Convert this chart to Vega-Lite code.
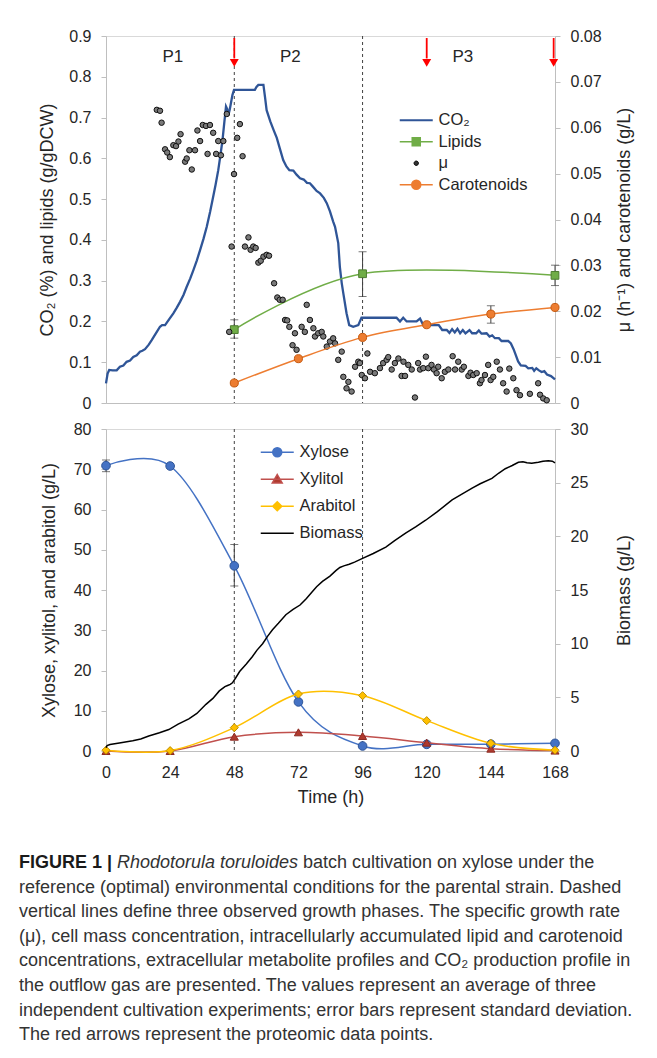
{
  "$schema": "https://vega.github.io/schema/vega-lite/v6.json",
  "background": "white",
  "padding": {"left": 19, "top": 27, "right": 0, "bottom": 0},
  "bounds": "flush",
  "spacing": 26,
  "config": {
    "font": "Liberation Sans",
    "view": {"stroke": "#d9d9d9"},
    "axis": {"labelFontSize": 16, "labelColor": "#262626", "titleFontSize": 18, "titleFontWeight": "normal", "titleColor": "#262626", "domainColor": "#bfbfbf", "tickColor": "#bfbfbf", "tickSize": 5, "grid": false, "labelPadding": 10, "titlePadding": 12},
    "legend": {"labelFontSize": 16.5, "labelColor": "#262626", "symbolSize": 121, "padding": 0}
  },
  "resolve": {"scale": {"x": "independent", "y": "independent", "color": "independent"}},
  "datasets": {
    "co2": [{"t":0,"v":0.048},{"t":0.6,"v":0.072},{"t":1.2,"v":0.081},{"t":2.5,"v":0.08},{"t":4,"v":0.08},{"t":5.2,"v":0.089},{"t":6.5,"v":0.092},{"t":7.7,"v":0.101},{"t":9,"v":0.104},{"t":10.2,"v":0.113},{"t":11.5,"v":0.117},{"t":12.7,"v":0.126},{"t":13.6,"v":0.128},{"t":14.6,"v":0.132},{"t":16,"v":0.143},{"t":17.1,"v":0.154},{"t":18.6,"v":0.17},{"t":20.2,"v":0.187},{"t":21,"v":0.191},{"t":22.1,"v":0.191},{"t":23.6,"v":0.205},{"t":25.2,"v":0.22},{"t":26.5,"v":0.234},{"t":27.7,"v":0.248},{"t":29,"v":0.265},{"t":30.2,"v":0.285},{"t":31.5,"v":0.305},{"t":32.7,"v":0.326},{"t":34,"v":0.35},{"t":35.2,"v":0.375},{"t":36.5,"v":0.403},{"t":37.7,"v":0.432},{"t":39,"v":0.47},{"t":40.1,"v":0.506},{"t":41,"v":0.535},{"t":42,"v":0.571},{"t":42.8,"v":0.607},{"t":43.6,"v":0.645},{"t":44.3,"v":0.69},{"t":44.9,"v":0.727},{"t":45.4,"v":0.72},{"t":45.8,"v":0.706},{"t":46.3,"v":0.72},{"t":46.6,"v":0.73},{"t":47.3,"v":0.755},{"t":47.9,"v":0.768},{"t":55.7,"v":0.768},{"t":56.3,"v":0.775},{"t":57,"v":0.78},{"t":58.9,"v":0.78},{"t":59.5,"v":0.75},{"t":60.1,"v":0.718},{"t":61.5,"v":0.69},{"t":62.8,"v":0.668},{"t":63.9,"v":0.65},{"t":65,"v":0.625},{"t":66.3,"v":0.596},{"t":67.5,"v":0.58},{"t":68.6,"v":0.571},{"t":70.1,"v":0.57},{"t":71.3,"v":0.56},{"t":72.6,"v":0.551},{"t":74,"v":0.548},{"t":75.2,"v":0.54},{"t":76.3,"v":0.539},{"t":77.5,"v":0.53},{"t":78.8,"v":0.52},{"t":80.1,"v":0.514},{"t":81.5,"v":0.503},{"t":82.6,"v":0.49},{"t":83.8,"v":0.47},{"t":85,"v":0.445},{"t":85.7,"v":0.432},{"t":86.9,"v":0.392},{"t":87.5,"v":0.334},{"t":88.2,"v":0.294},{"t":88.8,"v":0.269},{"t":90,"v":0.22},{"t":91,"v":0.191},{"t":92.5,"v":0.187},{"t":94.4,"v":0.191},{"t":95.6,"v":0.209},{"t":100,"v":0.209},{"t":104,"v":0.209},{"t":108.7,"v":0.209},{"t":110,"v":0.2},{"t":111.2,"v":0.209},{"t":112.5,"v":0.2},{"t":116.2,"v":0.2},{"t":117.5,"v":0.207},{"t":118.7,"v":0.191},{"t":121,"v":0.191},{"t":124.5,"v":0.191},{"t":125.8,"v":0.179},{"t":127.5,"v":0.179},{"t":128.5,"v":0.172},{"t":129.5,"v":0.181},{"t":130.5,"v":0.173},{"t":131.5,"v":0.182},{"t":132.5,"v":0.171},{"t":133.5,"v":0.179},{"t":134.5,"v":0.171},{"t":136,"v":0.179},{"t":137,"v":0.171},{"t":138.5,"v":0.171},{"t":139.5,"v":0.178},{"t":140.5,"v":0.17},{"t":142.4,"v":0.171},{"t":143.5,"v":0.163},{"t":144.5,"v":0.166},{"t":145.5,"v":0.159},{"t":147,"v":0.159},{"t":148,"v":0.152},{"t":150.5,"v":0.152},{"t":151.5,"v":0.146},{"t":152.5,"v":0.132},{"t":153.3,"v":0.118},{"t":154.2,"v":0.102},{"t":155.2,"v":0.092},{"t":157,"v":0.091},{"t":158,"v":0.085},{"t":159.5,"v":0.086},{"t":160.2,"v":0.079},{"t":161,"v":0.085},{"t":162,"v":0.08},{"t":163,"v":0.076},{"t":164,"v":0.078},{"t":165,"v":0.07},{"t":166.5,"v":0.066},{"t":168,"v":0.058}],
    "lip": [{"t":48,"v":0.18,"lo":0.159,"hi":0.204},{"t":96,"v":0.317,"lo":0.261,"hi":0.371},{"t":168,"v":0.313,"lo":0.288,"hi":0.338}],
    "car": [{"t":48,"v":0.00436},{"t":72,"v":0.00966},{"t":96,"v":0.0143},{"t":120,"v":0.01706},{"t":144,"v":0.01938,"lo":0.0174,"hi":0.0212},{"t":168,"v":0.02083}],
    "mu": [{"t":19.0,"m":0.0639},{"t":20.2,"m":0.0637},{"t":20.8,"m":0.0611},{"t":22.1,"m":0.0553},{"t":22.9,"m":0.0546},{"t":23.9,"m":0.0536},{"t":25.2,"m":0.0562},{"t":26.2,"m":0.056},{"t":27.1,"m":0.057},{"t":27.9,"m":0.0586},{"t":29.6,"m":0.0526},{"t":30.2,"m":0.0533},{"t":31.2,"m":0.0551},{"t":32.1,"m":0.0509},{"t":33.3,"m":0.0551},{"t":34.2,"m":0.0594},{"t":35.2,"m":0.0571},{"t":36.2,"m":0.0606},{"t":37.4,"m":0.0604},{"t":38.0,"m":0.0543},{"t":38.9,"m":0.0606},{"t":40.1,"m":0.0589},{"t":41.2,"m":0.0543},{"t":42.0,"m":0.0571},{"t":43.0,"m":0.054},{"t":43.9,"m":0.0571},{"t":45.2,"m":0.063},{"t":46.1,"m":0.0155},{"t":47.0,"m":0.0341},{"t":47.9,"m":0.0499},{"t":49.1,"m":0.0578},{"t":50.1,"m":0.0608},{"t":51.1,"m":0.0538},{"t":52.0,"m":0.0341},{"t":53.3,"m":0.0361},{"t":54.1,"m":0.0334},{"t":55.1,"m":0.0341},{"t":56.0,"m":0.0338},{"t":57.0,"m":0.0306},{"t":57.9,"m":0.031},{"t":58.9,"m":0.0319},{"t":60.1,"m":0.0323},{"t":61.0,"m":0.0321},{"t":62.9,"m":0.0261},{"t":64.1,"m":0.023},{"t":65.0,"m":0.0225},{"t":66.1,"m":0.0225},{"t":67.0,"m":0.0181},{"t":67.8,"m":0.018},{"t":68.6,"m":0.0166},{"t":69.8,"m":0.0126},{"t":70.7,"m":0.0152},{"t":71.3,"m":0.0116},{"t":73.2,"m":0.0166},{"t":74.4,"m":0.0155},{"t":75.1,"m":0.0214},{"t":76.3,"m":0.0181},{"t":77.6,"m":0.0163},{"t":78.2,"m":0.0145},{"t":79.4,"m":0.0152},{"t":80.7,"m":0.0155},{"t":81.3,"m":0.0145},{"t":82.6,"m":0.0123},{"t":83.8,"m":0.0134},{"t":85.0,"m":0.0141},{"t":85.7,"m":0.013},{"t":86.9,"m":0.0094},{"t":88.2,"m":0.0112},{"t":88.8,"m":0.0057},{"t":90.0,"m":0.0032},{"t":90.7,"m":0.0046},{"t":91.9,"m":0.0025},{"t":93.2,"m":0.0079},{"t":94.4,"m":0.009},{"t":95.0,"m":0.0087},{"t":95.7,"m":0.0061},{"t":96.9,"m":0.0054},{"t":97.8,"m":0.0108},{"t":98.8,"m":0.0068},{"t":100.6,"m":0.0065},{"t":102.5,"m":0.0076},{"t":103.7,"m":0.0087},{"t":105.0,"m":0.0094},{"t":105.6,"m":0.01},{"t":106.9,"m":0.0073},{"t":108.1,"m":0.0087},{"t":109.4,"m":0.0097},{"t":110.6,"m":0.0059},{"t":111.3,"m":0.009},{"t":111.9,"m":0.0059},{"t":113.1,"m":0.0083},{"t":114.4,"m":0.0073},{"t":115.6,"m":0.0012},{"t":116.8,"m":0.0087},{"t":117.5,"m":0.0073},{"t":118.7,"m":0.0076},{"t":119.7,"m":0.0101},{"t":120.6,"m":0.0076},{"t":121.8,"m":0.0083},{"t":122.7,"m":0.0073},{"t":123.7,"m":0.0065},{"t":124.3,"m":0.0079},{"t":125.6,"m":0.0054},{"t":126.8,"m":0.0068},{"t":128.1,"m":0.0073},{"t":129.7,"m":0.0102},{"t":130.6,"m":0.0073},{"t":131.8,"m":0.009},{"t":133.1,"m":0.0073},{"t":133.9,"m":0.0079},{"t":135.6,"m":0.0059},{"t":136.4,"m":0.0066},{"t":137.4,"m":0.0061},{"t":138.7,"m":0.0065},{"t":139.9,"m":0.0043},{"t":140.5,"m":0.005},{"t":141.8,"m":0.0061},{"t":143.0,"m":0.0083},{"t":143.9,"m":0.005},{"t":144.9,"m":0.0057},{"t":146.2,"m":0.009},{"t":147.4,"m":0.0073},{"t":148.6,"m":0.0043},{"t":149.9,"m":0.0025},{"t":150.9,"m":0.0075},{"t":152.4,"m":0.0054},{"t":153.6,"m":0.0028},{"t":154.9,"m":0.0017},{"t":158.6,"m":0.002},{"t":161.7,"m":0.0043},{"t":162.4,"m":0.0018},{"t":163.6,"m":0.001},{"t":164.9,"m":0.0006}],
    "xyl": [{"t":0,"v":70.9,"lo":69.4,"hi":72.3},{"t":24,"v":70.8},{"t":48,"v":46,"lo":41,"hi":51.3},{"t":72,"v":12.2},{"t":96,"v":1.25},{"t":120,"v":1.65},{"t":144,"v":1.7},{"t":168,"v":1.9}],
    "xlt": [{"t":0,"v":0},{"t":24,"v":0},{"t":48,"v":3.56},{"t":72,"v":4.64},{"t":96,"v":3.73},{"t":120,"v":2.07},{"t":144,"v":0.58},{"t":168,"v":0.1}],
    "ara": [{"t":0,"v":0.2},{"t":24,"v":0.1},{"t":48,"v":5.8},{"t":72,"v":14.16},{"t":96,"v":13.75},{"t":120,"v":7.54},{"t":144,"v":1.9},{"t":168,"v":0.2}],
    "bio": [{"t":0,"b":0.3},{"t":0.4,"b":0.5},{"t":1.5,"b":0.6},{"t":5,"b":0.75},{"t":10,"b":0.95},{"t":13,"b":1.12},{"t":16,"b":1.4},{"t":20,"b":1.7},{"t":23.5,"b":2.0},{"t":27,"b":2.5},{"t":31,"b":3.0},{"t":34,"b":3.5},{"t":37.4,"b":4.35},{"t":40,"b":4.9},{"t":42.4,"b":5.6},{"t":44.5,"b":6.0},{"t":45.5,"b":6.1},{"t":46.5,"b":6.2},{"t":47.3,"b":6.35},{"t":48.5,"b":6.8},{"t":50,"b":7.4},{"t":52.5,"b":8.1},{"t":54.8,"b":8.8},{"t":56.5,"b":9.4},{"t":58.6,"b":10.0},{"t":60.5,"b":10.7},{"t":62.3,"b":11.3},{"t":64.5,"b":11.9},{"t":67.3,"b":12.7},{"t":70,"b":13.2},{"t":72.6,"b":13.6},{"t":75,"b":14.2},{"t":77,"b":14.8},{"t":78.8,"b":15.3},{"t":81,"b":15.8},{"t":83.8,"b":16.3},{"t":86,"b":16.8},{"t":87.5,"b":17.1},{"t":89,"b":17.25},{"t":91,"b":17.4},{"t":93,"b":17.6},{"t":96,"b":17.95},{"t":100,"b":18.4},{"t":104.7,"b":19.0},{"t":108,"b":19.6},{"t":112.1,"b":20.3},{"t":116,"b":20.9},{"t":119.6,"b":21.5},{"t":124,"b":22.3},{"t":129.5,"b":23.4},{"t":133,"b":23.9},{"t":137,"b":24.5},{"t":140,"b":24.9},{"t":144.4,"b":25.4},{"t":147,"b":25.9},{"t":149.4,"b":26.3},{"t":152,"b":26.6},{"t":154.3,"b":26.9},{"t":156,"b":26.95},{"t":157.5,"b":26.85},{"t":159.3,"b":26.8},{"t":160.5,"b":26.85},{"t":161.8,"b":26.9},{"t":163.5,"b":27.0},{"t":165.5,"b":27.05},{"t":167,"b":27.0},{"t":168,"b":26.85}],
    "cap": [
      {"line":1,"part":"b","text":"FIGURE 1 |"},
      {"line":1,"part":"i","text":"Rhodotorula toruloides"},
      {"line":1,"part":"r","text":"batch cultivation on xylose under the"},
      {"line":2,"part":"n","text":"reference (optimal) environmental conditions for the parental strain. Dashed"},
      {"line":3,"part":"n","text":"vertical lines define three observed growth phases. The specific growth rate"},
      {"line":4,"part":"n","text":"(μ), cell mass concentration, intracellularly accumulated lipid and carotenoid"},
      {"line":5,"part":"n","text":"concentrations, extracellular metabolite profiles and CO₂ production profile in"},
      {"line":6,"part":"n","text":"the outflow gas are presented. The values represent an average of three"},
      {"line":7,"part":"n","text":"independent cultivation experiments; error bars represent standard deviation."},
      {"line":8,"part":"n","text":"The red arrows represent the proteomic data points."}
    ]
  },
  "vconcat": [
    {
      "width": 449, "height": 367,
      "resolve": {"scale": {"y": "independent"}},
      "encoding": {"x": {"field": "t", "type": "quantitative", "scale": {"domain": [0,168], "nice": false}, "axis": {"labels": false, "ticks": false, "title": null}}},
      "layer": [
        {"layer": [
          {"data": {"values": [{"t":48},{"t":96}]},
           "mark": {"type": "rule", "strokeDash": [3,3], "color": "#404040", "strokeWidth": 1},
           "encoding": {}},
          {"data": {"name": "co2"},
           "mark": {"type": "line", "strokeWidth": 2.3},
           "encoding": {
             "y": {"field": "v", "type": "quantitative", "scale": {"domain": [0,0.9], "nice": false}, "title": "CO₂ (%) and lipids (g/gDCW)", "axis": {"orient": "left", "values": [0,0.1,0.2,0.3,0.4,0.5,0.6,0.7,0.8,0.9], "format": "~g", "title": "CO₂ (%) and lipids (g/gDCW)"}},
             "color": {"datum": "CO₂", "type": "nominal",
               "scale": {"domain": ["CO₂","Lipids","μ","Carotenoids"], "range": ["#2f5597","#70ad47","#000000","#ed7d31"]},
               "legend": {"title": null, "orient": "none", "legendX": 291, "legendY": 76, "rowPadding": 4.5, "labelOffset": 25, "symbolSize": 121,
                 "encode": {"symbols": {"update": {
                   "shape": {"signal": "datum.value === 'Lipids' ? 'M-1,0H5M1.27,-0.73H2.73V0.73H1.27Z' : datum.value === 'μ' ? 'M1.6,0A0.4,0.4 0 1,0 2.4,0A0.4,0.4 0 1,0 1.6,0Z' : datum.value === 'Carotenoids' ? 'M-1,0H5M1.18,0A0.82,0.82 0 1,0 2.82,0A0.82,0.82 0 1,0 1.18,0Z' : 'M-1,0H5'"},
                   "fill": {"signal": "datum.value === 'Lipids' ? '#70ad47' : datum.value === 'μ' ? '#333333' : datum.value === 'Carotenoids' ? '#ed7d31' : 'transparent'"},
                   "stroke": {"signal": "datum.value === 'CO₂' ? '#2f5597' : datum.value === 'Lipids' ? '#70ad47' : datum.value === 'μ' ? '#000000' : '#ed7d31'"},
                   "strokeWidth": {"signal": "datum.value === 'CO₂' ? 2.2 : datum.value === 'μ' ? 1 : 1.5"},
                   "opacity": {"value": 1}}}}}}
           }},
          {"data": {"name": "lip"},
           "mark": {"type": "line", "interpolate": "cardinal", "strokeWidth": 1.5},
           "encoding": {"y": {"field": "v", "type": "quantitative", "title": "CO₂ (%) and lipids (g/gDCW)"}, "color": {"datum": "Lipids", "type": "nominal"}}},
          {"data": {"name": "lip"},
           "mark": {"type": "errorbar", "color": "#404040", "ticks": {"size": 8, "color": "#404040"}},
           "encoding": {"y": {"field": "lo", "type": "quantitative", "title": "CO₂ (%) and lipids (g/gDCW)"}, "y2": {"field": "hi"}}},
          {"data": {"name": "lip"},
           "mark": {"type": "point", "shape": "square", "filled": true, "fill": "#70ad47", "stroke": "#4e7d31", "strokeWidth": 1, "size": 60, "opacity": 1},
           "encoding": {"y": {"field": "v", "type": "quantitative", "title": "CO₂ (%) and lipids (g/gDCW)"}}},
          {"data": {"values": [{"t":48},{"t":120},{"t":167.5}]},
           "mark": {"type": "rule", "color": "#ff0000", "strokeWidth": 1.8},
           "encoding": {"y": {"datum": 0.895, "type": "quantitative", "title": "CO₂ (%) and lipids (g/gDCW)"}, "y2": {"datum": 0.845}}},
          {"data": {"values": [{"t":48},{"t":120},{"t":167.5}]},
           "mark": {"type": "point", "shape": "triangle-down", "filled": true, "color": "#ff0000", "size": 80, "opacity": 1},
           "encoding": {"y": {"datum": 0.834, "type": "quantitative", "title": "CO₂ (%) and lipids (g/gDCW)"}}},
          {"data": {"values": [{"t":25,"p":"P1"},{"t":69,"p":"P2"},{"t":133.5,"p":"P3"}]},
           "mark": {"type": "text", "fontSize": 17, "color": "#262626", "baseline": "middle"},
           "encoding": {"y": {"datum": 0.848, "type": "quantitative", "title": "CO₂ (%) and lipids (g/gDCW)"}, "text": {"field": "p"}}}
        ]},
        {"layer": [
          {"data": {"name": "mu"},
           "mark": {"type": "point", "shape": "circle", "filled": true, "fill": "#7a7a7a", "stroke": "#111111", "strokeWidth": 1, "size": 30, "opacity": 1},
           "encoding": {
             "y": {"field": "m", "type": "quantitative", "scale": {"domain": [0,0.08], "nice": false}, "title": "μ (h⁻¹) and carotenoids (g/L)", "axis": {"orient": "right", "values": [0,0.01,0.02,0.03,0.04,0.05,0.06,0.07,0.08], "format": "~g", "title": "μ (h⁻¹) and carotenoids (g/L)", "titleAngle": 270, "titleBaseline": "top", "titlePadding": 14}}}},
          {"data": {"name": "car"},
           "mark": {"type": "line", "interpolate": "cardinal", "strokeWidth": 1.5},
           "encoding": {"y": {"field": "v", "type": "quantitative", "title": "μ (h⁻¹) and carotenoids (g/L)"}, "color": {"datum": "Carotenoids", "type": "nominal"}}},
          {"data": {"name": "car"},
           "transform": [{"filter": "datum.lo != null"}],
           "mark": {"type": "errorbar", "color": "#404040", "ticks": {"size": 8, "color": "#404040"}},
           "encoding": {"y": {"field": "lo", "type": "quantitative", "title": "μ (h⁻¹) and carotenoids (g/L)"}, "y2": {"field": "hi"}}},
          {"data": {"name": "car"},
           "mark": {"type": "point", "shape": "circle", "filled": true, "fill": "#ed7d31", "stroke": "#c55a11", "strokeWidth": 1, "size": 65, "opacity": 1},
           "encoding": {"y": {"field": "v", "type": "quantitative", "title": "μ (h⁻¹) and carotenoids (g/L)"}}}
        ]}
      ]
    },
    {
      "width": 449, "height": 322,
      "resolve": {"scale": {"y": "independent"}},
      "encoding": {"x": {"field": "t", "type": "quantitative", "scale": {"domain": [0,168], "nice": false}, "title": "Time (h)", "axis": {"values": [0,24,48,72,96,120,144,168], "ticks": false, "labelFlush": false, "labelPadding": 13, "title": "Time (h)", "titlePadding": 8}}},
      "layer": [
        {"layer": [
          {"data": {"values": [{"t":48},{"t":96}]},
           "mark": {"type": "rule", "strokeDash": [3,3], "color": "#404040", "strokeWidth": 1},
           "encoding": {}},
          {"data": {"name": "xyl"},
           "mark": {"type": "line", "interpolate": "cardinal", "strokeWidth": 1.5},
           "encoding": {
             "y": {"field": "v", "type": "quantitative", "scale": {"domain": [0,80], "nice": false}, "title": "Xylose, xylitol,  and arabitol (g/L)", "axis": {"orient": "left", "values": [0,10,20,30,40,50,60,70,80], "title": "Xylose, xylitol,  and arabitol (g/L)", "titlePadding": 15}},
             "color": {"datum": "Xylose", "type": "nominal",
               "scale": {"domain": ["Xylose","Xylitol","Arabitol","Biomass"], "range": ["#4472c4","#c0504d","#ffc000","#000000"]},
               "legend": {"title": null, "orient": "none", "legendX": 152, "legendY": 15, "rowPadding": 10, "labelOffset": 25, "symbolSize": 121,
                 "encode": {"symbols": {"update": {
                   "shape": {"signal": "datum.value === 'Xylose' ? 'M-1,0H5M1.18,0A0.82,0.82 0 1,0 2.82,0A0.82,0.82 0 1,0 1.18,0Z' : datum.value === 'Xylitol' ? 'M-1,0H5M2,-0.85L2.9,0.7H1.1Z' : datum.value === 'Arabitol' ? 'M-1,0H5M2,-0.82L2.82,0L2,0.82L1.18,0Z' : 'M-1,0H5'"},
                   "fill": {"signal": "datum.value === 'Xylose' ? '#4472c4' : datum.value === 'Xylitol' ? '#b03a2e' : datum.value === 'Arabitol' ? '#ffc000' : 'transparent'"},
                   "stroke": {"signal": "datum.value === 'Xylose' ? '#4472c4' : datum.value === 'Xylitol' ? '#c0504d' : datum.value === 'Arabitol' ? '#ffc000' : '#000000'"},
                   "strokeWidth": {"value": 1.5},
                   "opacity": {"value": 1}}}}}}
           }},
          {"data": {"name": "xyl"},
           "transform": [{"filter": "datum.lo != null"}],
           "mark": {"type": "errorbar", "color": "#404040", "ticks": {"size": 8, "color": "#404040"}},
           "encoding": {"y": {"field": "lo", "type": "quantitative", "title": "Xylose, xylitol,  and arabitol (g/L)"}, "y2": {"field": "hi"}}},
          {"data": {"name": "xyl"},
           "mark": {"type": "point", "shape": "circle", "filled": true, "fill": "#4472c4", "stroke": "#2f5597", "strokeWidth": 1, "size": 75, "opacity": 1},
           "encoding": {"y": {"field": "v", "type": "quantitative", "title": "Xylose, xylitol,  and arabitol (g/L)"}}},
          {"data": {"name": "xlt"},
           "mark": {"type": "line", "interpolate": "cardinal", "strokeWidth": 1.5},
           "encoding": {"y": {"field": "v", "type": "quantitative", "title": "Xylose, xylitol,  and arabitol (g/L)"}, "color": {"datum": "Xylitol", "type": "nominal"}}},
          {"data": {"name": "xlt"},
           "mark": {"type": "point", "shape": "triangle-up", "filled": true, "fill": "#b03a2e", "stroke": "#8b2a22", "strokeWidth": 1, "size": 65, "opacity": 1},
           "encoding": {"y": {"field": "v", "type": "quantitative", "title": "Xylose, xylitol,  and arabitol (g/L)"}}},
          {"data": {"name": "ara"},
           "mark": {"type": "line", "interpolate": "cardinal", "strokeWidth": 1.5},
           "encoding": {"y": {"field": "v", "type": "quantitative", "title": "Xylose, xylitol,  and arabitol (g/L)"}, "color": {"datum": "Arabitol", "type": "nominal"}}},
          {"data": {"name": "ara"},
           "mark": {"type": "point", "shape": "diamond", "filled": true, "fill": "#ffc000", "stroke": "#bf9000", "strokeWidth": 1, "size": 65, "opacity": 1},
           "encoding": {"y": {"field": "v", "type": "quantitative", "title": "Xylose, xylitol,  and arabitol (g/L)"}}}
        ]},
        {"layer": [
          {"data": {"name": "bio"},
           "mark": {"type": "line", "strokeWidth": 1.5},
           "encoding": {
             "y": {"field": "b", "type": "quantitative", "scale": {"domain": [0,30], "nice": false}, "title": "Biomass (g/L)", "axis": {"orient": "right", "values": [0,5,10,15,20,25,30], "title": "Biomass (g/L)", "titleAngle": 270, "titleBaseline": "top", "titlePadding": 28}},
             "color": {"datum": "Biomass", "type": "nominal"}}}
        ]}
      ]
    },
    {
      "width": 449, "height": 281,
      "view": {"stroke": null},
      "data": {"name": "cap"},
      "encoding": {
        "x": {"datum": 0, "type": "quantitative", "scale": {"domain": [0,1]}, "axis": null},
        "y": {"field": "line", "type": "quantitative", "scale": {"domain": [-2.496,8.927], "reverse": true, "nice": false, "zero": false}, "axis": null},
        "text": {"field": "text"}
      },
      "layer": [
        {"transform": [{"filter": "datum.part == 'n'"}],
         "mark": {"type": "text", "align": "left", "baseline": "middle", "dx": -87, "fontSize": 18, "color": "#333333"}},
        {"transform": [{"filter": "datum.part == 'b'"}],
         "mark": {"type": "text", "align": "left", "baseline": "middle", "dx": -87, "fontSize": 18, "fontWeight": "bold", "color": "#1a1a1a"}},
        {"transform": [{"filter": "datum.part == 'i'"}],
         "mark": {"type": "text", "align": "left", "baseline": "middle", "dx": 11, "fontSize": 18, "fontStyle": "italic", "color": "#333333"}},
        {"transform": [{"filter": "datum.part == 'r'"}],
         "mark": {"type": "text", "align": "left", "baseline": "middle", "dx": 197, "fontSize": 18, "color": "#333333"}}
      ]
    }
  ]
}
